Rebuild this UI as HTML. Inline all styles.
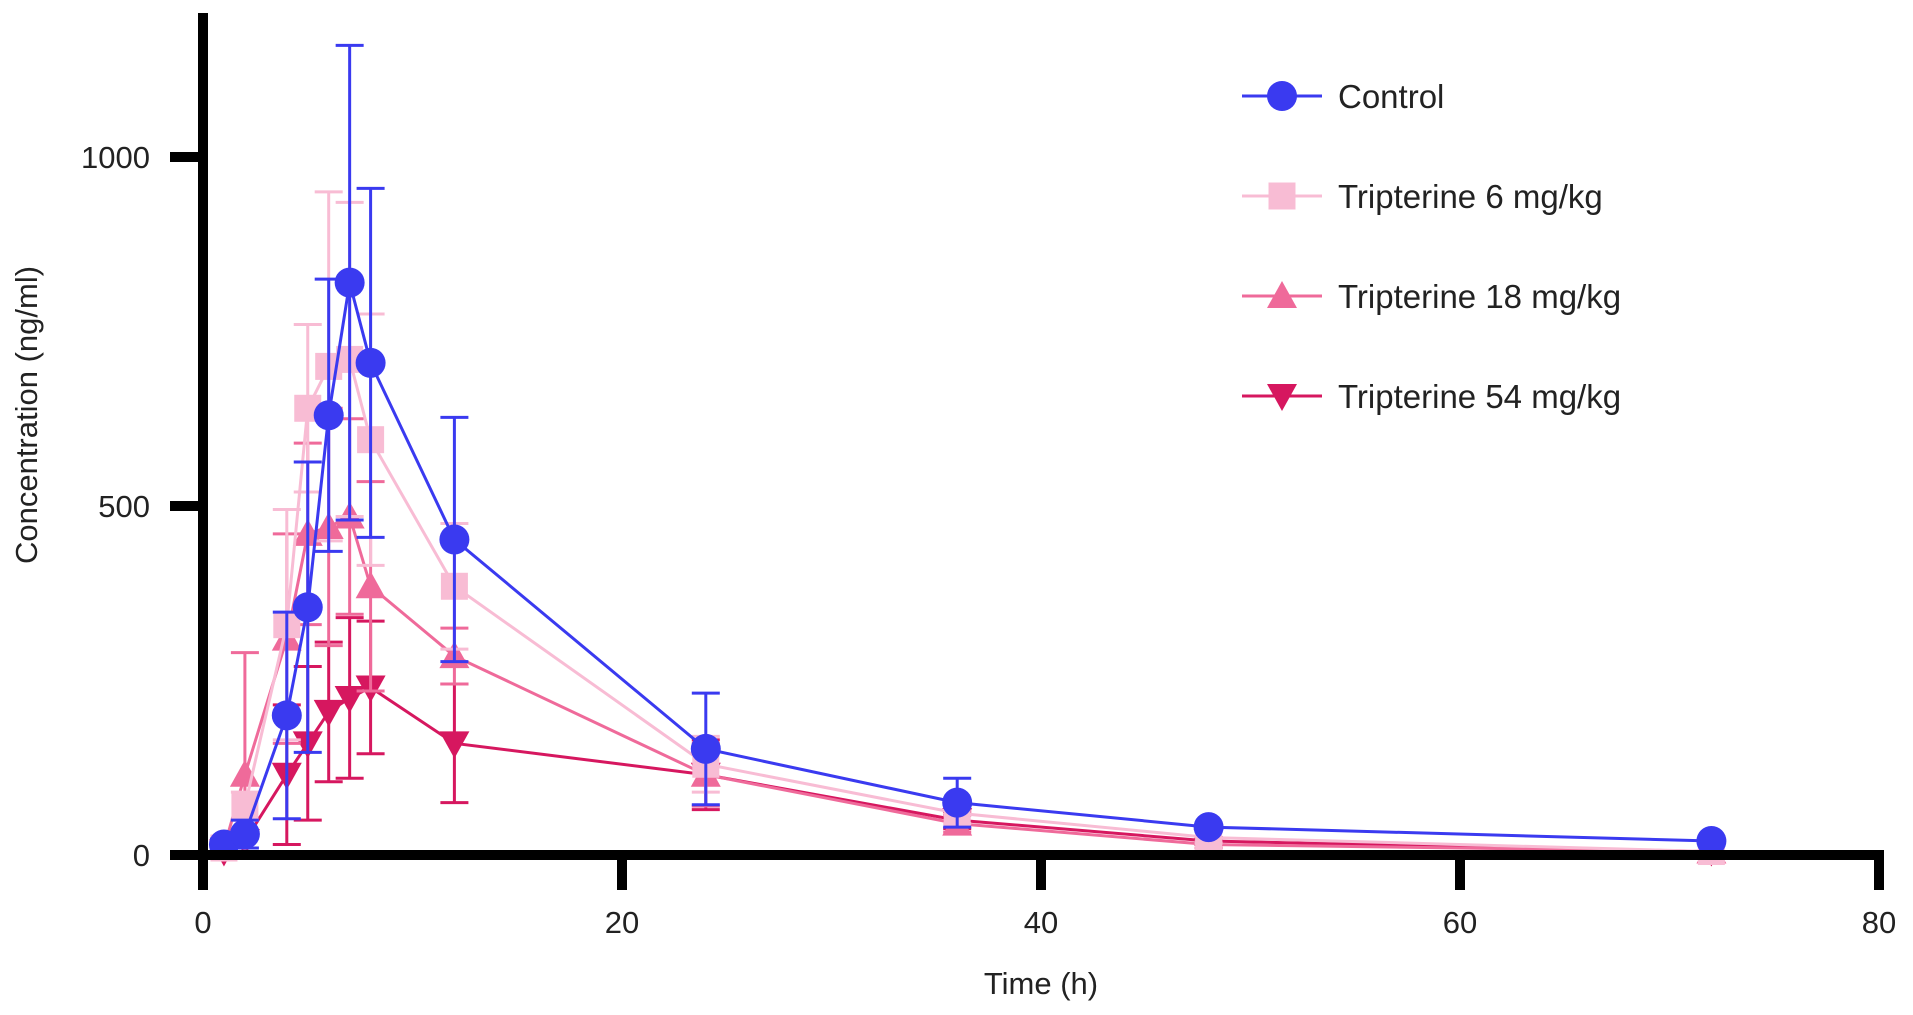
<!DOCTYPE html>
<html><head><meta charset="utf-8"><style>
html,body{margin:0;padding:0;background:#fff;}
svg{display:block;font-family:"Liberation Sans",Arial,sans-serif;}
</style></head><body>
<svg id="chart" width="1913" height="1015" viewBox="0 0 1913 1015" xmlns="http://www.w3.org/2000/svg">
<g id="series"></g>
<g id="axes"></g>
<g id="legend"></g>
<text x="1041" y="994" font-size="31" text-anchor="middle" fill="#222">Time (h)</text>
<text transform="translate(37,415) rotate(-90)" font-size="31" text-anchor="middle" fill="#222">Concentration (ng/ml)</text>
</svg>
<script>
const times = [1,2,4,5,6,7,8,12,24,36,48,72];
const seriesNames = ["Control","Tripterine 6 mg/kg","Tripterine 18 mg/kg","Tripterine 54 mg/kg"];
const controlVals = [15,30,200,355,630,820,705,452,152,75,40,20];
const controlErr  = [8,20,148,208,195,340,250,175,80,35,0,0];
const t6Vals = [10,70,330,640,700,710,595,385,130,60,25,5];
const t6Err  = [5,20,165,120,250,225,180,90,40,15,8,0];
const t18Vals = [10,115,310,460,470,485,385,285,115,45,15,5];
const t18Err  = [5,175,150,130,170,140,150,40,45,12,5,0];
const t54Vals = [5,20,115,160,205,225,240,160,115,50,20,5];
const t54Err  = [3,15,100,110,100,115,95,85,50,12,5,0];
const xTicks = [0,20,40,60,80];
const yTicks = [0,500,1000];

const NS="http://www.w3.org/2000/svg";
const X0=203, XS=20.95, Y0=855, YS=0.698;
const xp=t=>X0+t*XS, yp=v=>Y0-v*YS;
function mk(tag,attrs,parent){const e=document.createElementNS(NS,tag);for(const k in attrs)e.setAttribute(k,attrs[k]);parent.appendChild(e);return e;}
function marker(shape,cx,cy,color,parent,r){
  let e;
  if(shape==="circle") e=mk("circle",{cx,cy,r,fill:color},parent);
  else if(shape==="square") e=mk("rect",{x:cx-r*0.9,y:cy-r*0.9,width:r*1.8,height:r*1.8,fill:color},parent);
  else if(shape==="up") e=mk("polygon",{points:`${cx},${cy-r} ${cx-r},${cy+r*0.8} ${cx+r},${cy+r*0.8}`,fill:color},parent);
  else e=mk("polygon",{points:`${cx},${cy+r} ${cx-r},${cy-r*0.8} ${cx+r},${cy-r*0.8}`,fill:color},parent);
  return e;
}
const S=document.getElementById("series");
const defs=[
 {vals:t54Vals,err:t54Err,color:"#d6175f",shape:"down",name:"tripterine-54"},
 {vals:t18Vals,err:t18Err,color:"#ef6a9a",shape:"up",name:"tripterine-18"},
 {vals:t6Vals,err:t6Err,color:"#f8bcd4",shape:"square",name:"tripterine-6"},
 {vals:controlVals,err:controlErr,color:"#3a3af0",shape:"circle",name:"control"}
];
defs.forEach(d=>{
  const g=mk("g",{},S);
  
  
  const pts=times.map((t,i)=>xp(t)+","+yp(d.vals[i])).join(" ");
  const ln=mk("polyline",{points:pts,fill:"none",stroke:d.color,"stroke-width":3},g);
  
  
  times.forEach((t,i)=>{
    if(d.err[i]>0){
      const x=xp(t),y1=yp(d.vals[i]+d.err[i]),y2=yp(Math.max(0,d.vals[i]-d.err[i]));
      const eb=mk("path",{d:`M${x},${y1}V${y2}M${x-14},${y1}H${x+14}M${x-14},${y2}H${x+14}`,stroke:d.color,"stroke-width":3,fill:"none"},g);
      
      
    }
    const m=marker(d.shape,xp(t),yp(d.vals[i]),d.color,g,15);
    
    
  });
});
const A=document.getElementById("axes");
const ya=mk("line",{x1:X0,y1:13,x2:X0,y2:890,stroke:"#000","stroke-width":10},A);


const xa=mk("line",{x1:170,y1:Y0,x2:xp(80)+5,y2:Y0,stroke:"#000","stroke-width":10},A);


xTicks.forEach(t=>{
  const tk=mk("line",{x1:xp(t),y1:Y0,x2:xp(t),y2:890,stroke:"#000","stroke-width":10},A);
  
  
  const lb=mk("text",{x:xp(t),y:933,"font-size":31,"text-anchor":"middle",fill:"#222"},A);
  lb.textContent=t;
  
  
});
yTicks.forEach(v=>{
  const tk=mk("line",{x1:170,y1:yp(v),x2:X0,y2:yp(v),stroke:"#000","stroke-width":10},A);
  
  
  const lb=mk("text",{x:150,y:yp(v)+11,"font-size":31,"text-anchor":"end",fill:"#222"},A);
  lb.textContent=v;
  
  
});
const L=document.getElementById("legend");
const legDefs=[defs[3],defs[2],defs[1],defs[0]];
legDefs.forEach((d,i)=>{
  const y=96+i*100;
  const g=mk("g",{},L);
  
  
  mk("line",{x1:1242,y1:y,x2:1322,y2:y,stroke:d.color,"stroke-width":3},g);
  marker(d.shape,1282,y,d.color,g,15);
  const tx=mk("text",{x:1338,y:y+12,"font-size":33,fill:"#222"},g);
  tx.textContent=seriesNames[i];
});
</script>
</body></html>
